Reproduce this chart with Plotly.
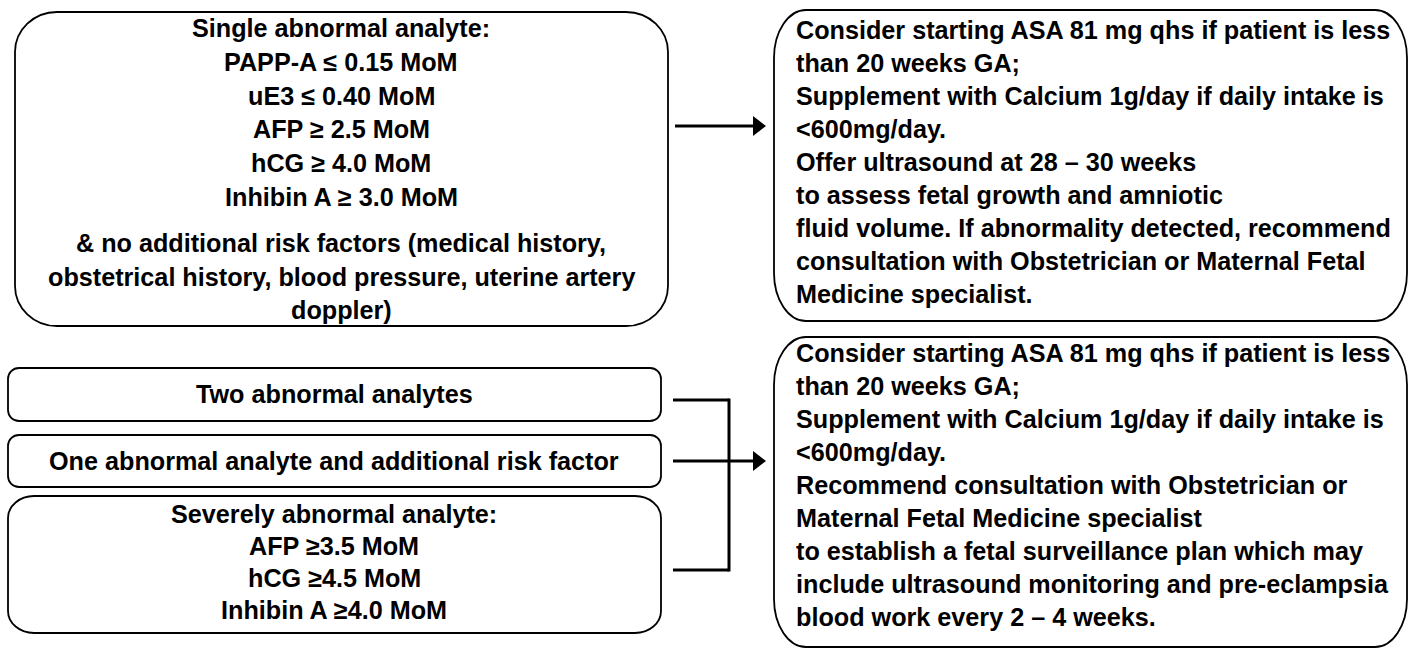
import plotly.graph_objects as go

# ---------------- text content (data) ----------------
single_analyte_lines = [
    "Single abnormal analyte:",
    "PAPP-A ≤ 0.15 MoM",
    "uE3 ≤ 0.40 MoM",
    "AFP ≥ 2.5 MoM",
    "hCG ≥ 4.0 MoM",
    "Inhibin A ≥ 3.0 MoM",
]
single_risk_lines = [
    "& no additional risk factors (medical history,",
    "obstetrical history, blood pressure, uterine artery",
    "doppler)",
]
two_label = ["Two abnormal analytes"]
one_label = ["One abnormal analyte and additional risk factor"]
severe_lines = [
    "Severely abnormal analyte:",
    "AFP ≥3.5 MoM",
    "hCG ≥4.5 MoM",
    "Inhibin A ≥4.0 MoM",
]
low_risk_advice = [
    "Consider starting ASA 81 mg qhs if patient is less",
    "than 20 weeks GA;",
    "Supplement with Calcium 1g/day if daily intake is",
    "<600mg/day.",
    "Offer ultrasound at 28 – 30 weeks",
    "to assess fetal growth and amniotic",
    "fluid volume. If abnormality detected, recommend",
    "consultation with Obstetrician or Maternal Fetal",
    "Medicine specialist.",
]
high_risk_advice = [
    "Consider starting ASA 81 mg qhs if patient is less",
    "than 20 weeks GA;",
    "Supplement with Calcium 1g/day if daily intake is",
    "<600mg/day.",
    "Recommend consultation with Obstetrician or",
    "Maternal Fetal Medicine specialist",
    "to establish a fetal surveillance plan which may",
    "include ultrasound monitoring and pre-eclampsia",
    "blood work every 2 – 4 weeks.",
]

# ---------------- layout / styling ----------------
W, H = 1411, 649
FONT = dict(family="Liberation Sans, Arial, sans-serif", size=25.2, color="black", weight=700)
K = 0.5523


def rrect(x0, y0, x1, y1, rx, ry):
    kx, ky = rx * K, ry * K
    return (
        f"M {x0+rx},{y0} L {x1-rx},{y0} "
        f"C {x1-rx+kx},{y0} {x1},{y0+ry-ky} {x1},{y0+ry} "
        f"L {x1},{y1-ry} "
        f"C {x1},{y1-ry+ky} {x1-rx+kx},{y1} {x1-rx},{y1} "
        f"L {x0+rx},{y1} "
        f"C {x0+rx-kx},{y1} {x0},{y1-ry+ky} {x0},{y1-ry} "
        f"L {x0},{y0+ry} "
        f"C {x0},{y0+ry-ky} {x0+rx-kx},{y0} {x0+rx},{y0} Z"
    )


fig = go.Figure()
shapes = []
annotations = []


def box(x0, y0, x1, y1, rx, ry, lw=1.8):
    shapes.append(dict(type="path", path=rrect(x0, y0, x1, y1, rx, ry),
                       xref="x", yref="y", line=dict(color="black", width=lw),
                       fillcolor="rgba(0,0,0,0)"))


def text_lines(lines, x, y_start, dy, anchor):
    for i, t in enumerate(lines):
        annotations.append(dict(x=x, y=y_start + i * dy, xref="x", yref="y",
                                text=t, showarrow=False, xanchor=anchor,
                                yanchor="middle", font=FONT))


def hline(x0, x1, y, lw=3):
    shapes.append(dict(type="line", x0=x0, x1=x1, y0=y, y1=y, xref="x", yref="y",
                       line=dict(color="black", width=lw)))


def vline(x, y0, y1, lw=3):
    shapes.append(dict(type="line", x0=x, x1=x, y0=y0, y1=y1, xref="x", yref="y",
                       line=dict(color="black", width=lw)))


def arrowhead(x_tip, y, length=13, half=10):
    shapes.append(dict(type="path",
                       path=f"M {x_tip},{y} L {x_tip-length},{y-half} L {x_tip-length},{y+half} Z",
                       xref="x", yref="y", line=dict(color="black", width=0),
                       fillcolor="black"))


# Left top box
box(15, 12, 668, 326, 42, 40)
text_lines(single_analyte_lines, 341, 28, 33.8, "center")
text_lines(single_risk_lines, 341, 243, 33.5, "center")

# Left bottom boxes
box(8, 368, 661, 421, 11, 11)
text_lines(two_label, 334, 394, 0, "center")
box(8, 435, 661, 487, 11, 11)
text_lines(one_label, 334, 461, 0, "center")
box(8, 496, 661, 633, 26, 22)
text_lines(severe_lines, 334, 514, 32.0, "center")

# Right boxes
box(774, 10, 1407, 321, 32, 48)
text_lines(low_risk_advice, 794, 30, 33.0, "left")
box(774, 337, 1407, 647, 32, 48)
text_lines(high_risk_advice, 794, 353, 33.0, "left")

# Connectors
hline(675, 755, 126)
arrowhead(766, 126)

hline(673, 729, 400)
hline(673, 755, 461)
hline(673, 729, 570)
vline(729, 398.5, 571.5)
arrowhead(766, 461)

fig.update_layout(
    width=W, height=H,
    margin=dict(l=0, r=0, t=0, b=0),
    paper_bgcolor="white", plot_bgcolor="white",
    xaxis=dict(range=[0, W], visible=False, fixedrange=True),
    yaxis=dict(range=[H, 0], visible=False, fixedrange=True),
    shapes=shapes, annotations=annotations, showlegend=False,
)

fig.write_html("out.html", config={"displayModeBar": False},
               post_script="document.body.style.margin='0px';")
